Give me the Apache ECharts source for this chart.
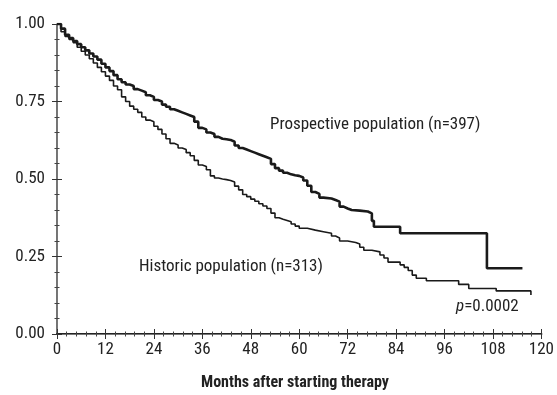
<!DOCTYPE html>
<html>
<head>
<meta charset="utf-8">
<script src="https://cdn.jsdelivr.net/npm/echarts@6/dist/echarts.min.js"></script>
<style>
  html, body { margin: 0; padding: 0; background: #fff; }
  #chart { width: 557px; height: 395px; }
</style>
</head>
<body>
<div id="chart"></div>
<script>
// Kaplan-Meier curves (months, survival fraction)
const prospectiveMonths = [0, 1, 2, 3, 4, 5, 6, 7, 8, 9, 10, 11, 12, 13, 14, 15, 16, 17, 18, 19, 20, 21, 22, 23, 24, 25, 26, 27, 28, 29, 30, 31, 32, 33, 34, 35, 36, 37, 38, 39, 40, 41, 42, 43, 44, 45, 46, 47, 48, 49, 50, 51, 52, 53, 54, 55, 56, 57, 58, 59, 60, 61, 62, 63, 64, 65, 66, 68, 69, 70, 71, 72, 73, 75, 77, 78, 78.5, 85, 106.5, 115.3]
const prospectiveSurv = [1.0, 0.985, 0.965, 0.955, 0.945, 0.935, 0.925, 0.915, 0.905, 0.895, 0.885, 0.872, 0.86, 0.848, 0.835, 0.822, 0.812, 0.805, 0.8, 0.79, 0.785, 0.78, 0.77, 0.765, 0.755, 0.75, 0.74, 0.733, 0.725, 0.72, 0.715, 0.71, 0.705, 0.7, 0.685, 0.665, 0.66, 0.65, 0.645, 0.636, 0.63, 0.628, 0.626, 0.62, 0.608, 0.6, 0.595, 0.59, 0.585, 0.58, 0.575, 0.57, 0.565, 0.548, 0.535, 0.527, 0.52, 0.515, 0.512, 0.51, 0.505, 0.495, 0.478, 0.458, 0.452, 0.44, 0.437, 0.432, 0.427, 0.411, 0.405, 0.4, 0.398, 0.395, 0.389, 0.365, 0.346, 0.325, 0.212, 0.212]

const historicMonths = [0, 1, 2, 3, 4, 5, 6, 7, 8, 9, 10, 11, 12, 13, 14, 15, 16, 17, 18, 19, 20, 21, 22, 23, 24, 25, 26, 27, 28, 29, 30, 31, 32, 33, 34, 35, 36, 37, 38, 39, 40, 41, 42, 43, 44, 45, 46, 47, 48, 49, 50, 51, 52, 53, 54, 55, 56, 57, 58, 59, 60, 62, 64, 66, 68, 69, 70, 72, 74, 75, 76, 78, 80, 81, 82, 85, 86, 87, 88, 89, 91.5, 99.5, 102, 108.8, 117.4]
const historicSurv = [1.0, 0.975, 0.96, 0.95, 0.94, 0.925, 0.912, 0.9, 0.888, 0.874, 0.86, 0.846, 0.832, 0.818, 0.8, 0.788, 0.765, 0.75, 0.735, 0.725, 0.715, 0.7, 0.69, 0.685, 0.67, 0.66, 0.645, 0.63, 0.615, 0.61, 0.6, 0.595, 0.585, 0.575, 0.56, 0.545, 0.54, 0.53, 0.51, 0.503, 0.5, 0.498, 0.495, 0.49, 0.477, 0.465, 0.45, 0.443, 0.435, 0.428, 0.42, 0.413, 0.405, 0.39, 0.375, 0.37, 0.366, 0.362, 0.355, 0.348, 0.341, 0.335, 0.33, 0.325, 0.316, 0.31, 0.3, 0.295, 0.29, 0.28, 0.27, 0.265, 0.255, 0.245, 0.232, 0.223, 0.215, 0.205, 0.19, 0.18, 0.172, 0.16, 0.147, 0.139, 0.126]

const xTicks = [0, 12, 24, 36, 48, 60, 72, 84, 96, 108, 120]
const yTicks = ['0.00', '0.25', '0.50', '0.75', '1.00']

const font = "'Liberation Sans Narrow', 'Roboto Condensed', 'DejaVu Sans Condensed', 'Liberation Sans', sans-serif"

const chart = echarts.init(document.getElementById('chart'))

const pair = (xs, ys) => xs.map((x, i) => [x, ys[i]])

const baseX = {
  type: 'value',
  min: xTicks[0],
  max: xTicks[xTicks.length - 1],
  interval: 12,
  splitLine: { show: false },
  axisTick: { inside: true, length: 5, lineStyle: { color: '#333', width: 1 } },
  minorTick: { show: true, splitNumber: 5, length: 2.5, lineStyle: { color: '#444' } }
}
const baseY = {
  type: 'value',
  min: 0,
  max: 1,
  interval: 0.25,
  splitLine: { show: false },
  axisTick: { inside: true, length: 5, lineStyle: { color: '#333', width: 1 } },
  minorTick: { show: true, splitNumber: 5, length: 2.5, lineStyle: { color: '#444' } }
}

const option = {
  animation: false,
  backgroundColor: '#fff',
  grid: { left: 57, top: 24, right: 11, bottom: 61 },
  textStyle: { fontFamily: font },
  xAxis: [
    {
      ...baseX,
      position: 'bottom',
      axisLine: { onZero: false, lineStyle: { color: '#222', width: 2 } },
      axisLabel: { color: '#222', fontSize: 17, fontFamily: font, margin: 7 }
    },
    {
      ...baseX,
      position: 'top',
      axisLine: { lineStyle: { color: '#777', width: 1 } },
      axisLabel: { show: false }
    }
  ],
  yAxis: [
    {
      ...baseY,
      position: 'left',
      axisLine: { onZero: false, lineStyle: { color: '#444', width: 1.5 } },
      axisLabel: {
        color: '#222', fontSize: 17, fontFamily: font, margin: 12,
        formatter: v => yTicks[Math.round(v * 4)]
      }
    },
    {
      ...baseY,
      position: 'right',
      axisLine: { lineStyle: { color: '#777', width: 1 } },
      axisLabel: { show: false }
    }
  ],
  series: [
    {
      name: 'Historic population (n=313)',
      type: 'line',
      step: 'end',
      showSymbol: false,
      data: pair(historicMonths, historicSurv),
      lineStyle: { color: '#1a1a1a', width: 1.6 }
    },
    {
      name: 'Prospective population (n=397)',
      type: 'line',
      step: 'end',
      showSymbol: false,
      data: pair(prospectiveMonths, prospectiveSurv),
      lineStyle: { color: '#1a1a1a', width: 2.6 }
    }
  ],
  graphic: [
    {
      type: 'text', x: 270, y: 125,
      style: { text: 'Prospective population (n=397)', font: '17px ' + font, fill: '#222', verticalAlign: 'middle' }
    },
    {
      type: 'text', x: 139, y: 267,
      style: { text: 'Historic population (n=313)', font: '17px ' + font, fill: '#222', verticalAlign: 'middle' }
    },
    {
      type: 'text', x: 456, y: 307,
      style: {
        text: '{i|p}=0.0002',
        font: '17px ' + font,
        fill: '#222',
        verticalAlign: 'middle',
        rich: { i: { fontStyle: 'italic', fontSize: 17, fontFamily: font, fill: '#222' } }
      }
    },
    {
      type: 'text', x: 295, y: 383,
      style: { text: 'Months after starting therapy', font: 'bold 16px ' + font, fill: '#222', align: 'center', verticalAlign: 'middle' }
    }
  ]
}

chart.setOption(option)
</script>
</body>
</html>
